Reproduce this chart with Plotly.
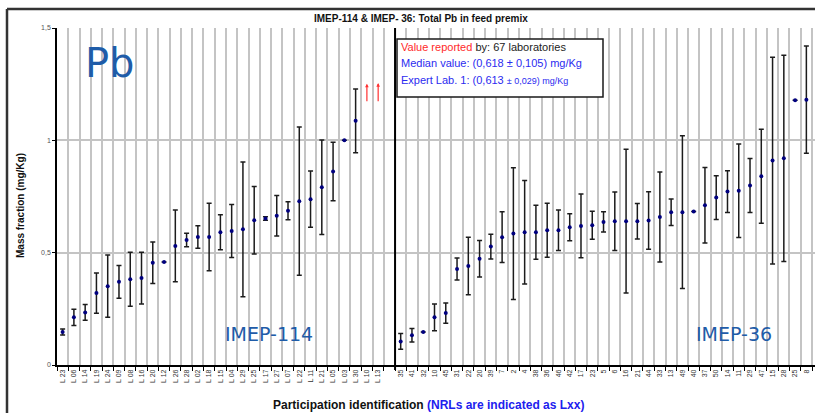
import plotly.graph_objects as go

# ---- IMEP-114 (NRLs) ----
LEFT_LABS = ["L 23", "L 06", "L 14", "L 19", "L 24", "L 09", "L 08", "L 16", "L 20", "L 12",
             "L 26", "L 28", "L 02", "L 18", "L 15", "L 04", "L 29", "L 25", "L 17", "L 27",
             "L 07", "L 22", "L 11", "L 21", "L 05", "L 03", "L 30", "L 10", "L 13"]
LEFT_VALS = [0.147, 0.212, 0.234, 0.320, 0.351, 0.370, 0.382, 0.387, 0.455, 0.459,
             0.530, 0.556, 0.570, 0.570, 0.591, 0.596, 0.604, 0.644, 0.652, 0.664,
             0.687, 0.729, 0.738, 0.791, 0.861, 1.000, 1.087, None, None]
LEFT_UNC = [0.013, 0.036, 0.035, 0.090, 0.139, 0.073, 0.120, 0.115, 0.092, None,
            0.160, 0.030, 0.050, 0.150, 0.078, 0.118, 0.300, 0.150, 0.008, 0.090,
            0.040, 0.330, 0.125, 0.210, 0.130, None, 0.142, None, None]

# ---- IMEP-36 ----
RIGHT_LABS = ["35", "41", "32", "10", "45", "31", "22", "20", "39", "7", "2", "4", "38",
              "36", "46", "42", "17", "23", "5", "6", "16", "21", "44", "33", "13", "49",
              "40", "37", "50", "14", "11", "29", "47", "15", "28", "25", "8"]
RIGHT_VALS = [0.105, 0.132, 0.147, 0.212, 0.231, 0.427, 0.441, 0.473, 0.527, 0.569,
              0.585, 0.591, 0.591, 0.600, 0.600, 0.613, 0.619, 0.622, 0.637, 0.640,
              0.640, 0.640, 0.643, 0.659, 0.680, 0.680, 0.683, 0.711, 0.745, 0.772,
              0.776, 0.799, 0.840, 0.910, 0.920, 1.178, 1.181]
RIGHT_UNC = [0.035, 0.030, None, 0.059, 0.045, 0.049, 0.128, 0.081, 0.055, 0.113,
             0.293, 0.230, 0.120, 0.120, 0.090, 0.060, 0.142, 0.062, 0.045, 0.130,
             0.320, 0.079, 0.128, 0.200, 0.059, 0.340, None, 0.168, 0.097, 0.093,
             0.208, 0.120, 0.209, 0.460, 0.459, None, 0.239]

# results above the axis limit, drawn as arrows
OFFSCALE_LABS = ["L 10", "L 13"]
OFFSCALE_FROM = [1.167, 1.167]
OFFSCALE_TO = [1.252, 1.255]

BLANK = " "
CATS = LEFT_LABS + [BLANK] + RIGHT_LABS

# plot-area geometry in pixels (for paper-referenced decorations)
W, H = 815, 413
L_PX, R_PX, T_PX, B_PX = 57, 815, 28, 365
SLOT = (812 - L_PX) / len(CATS)


def px(xp):
    return (xp - L_PX) / (R_PX - L_PX)


def py(yp):
    return (B_PX - yp) / (B_PX - T_PX)


BLUE_TXT = "#1f5ca8"
SANS = "Liberation Sans, Arial, sans-serif"
VERD = "DejaVu Sans, Verdana, sans-serif"

fig = go.Figure()

# keeps the empty separator slot on the category axis
fig.add_trace(go.Scatter(x=[BLANK], y=[-1], mode="markers", marker=dict(opacity=0),
                         hoverinfo="skip", showlegend=False))

fig.add_trace(go.Scatter(
    x=LEFT_LABS + RIGHT_LABS,
    y=LEFT_VALS + RIGHT_VALS,
    mode="markers",
    marker=dict(color="#00007f", size=4),
    error_y=dict(type="data", array=LEFT_UNC + RIGHT_UNC, visible=True,
                 color="#1c1c1c", thickness=1.5, width=2.5),
    showlegend=False,
))

annotations = []
for lab, y0, y1 in zip(OFFSCALE_LABS, OFFSCALE_FROM, OFFSCALE_TO):
    i = CATS.index(lab)
    annotations.append(dict(x=i, y=y1, ax=i, ay=y0, xref="x", yref="y", axref="x", ayref="y",
                            showarrow=True, arrowhead=2, arrowsize=0.6, arrowwidth=1.2,
                            arrowcolor="#ff3030", text=""))

sep = CATS.index(BLANK) + 0.5

shapes = [
    # split between the two rounds
    dict(type="line", xref="x", yref="paper", x0=sep, x1=sep, y0=-0.015, y1=1,
         line=dict(color="black", width=2)),
    # info box
    dict(type="rect", xref="paper", yref="paper", x0=px(397), x1=px(603), y0=py(97), y1=py(39),
         line=dict(color="#1a1a1a", width=1.5), fillcolor="white", layer="above"),
    # outer frame
    dict(type="line", xref="paper", yref="paper", x0=px(7), x1=1.0, y0=py(9), y1=py(9),
         line=dict(color="#333333", width=2.5)),
    dict(type="line", xref="paper", yref="paper", x0=px(7), x1=px(7), y0=py(9), y1=py(413),
         line=dict(color="#333333", width=2.5)),
]


def label(text, x, y, size, color, family=SANS, xanchor="center", **kw):
    return dict(text=text, xref="paper", yref="paper", x=px(x), y=py(y),
                xanchor=xanchor, yanchor="middle", showarrow=False,
                font=dict(family=family, size=size, color=color), **kw)


annotations += [
    label("<b>IMEP-114 & IMEP- 36: Total Pb in feed premix</b>", 421, 18, 10, "#111",
          family="Liberation Sans Narrow, Arial Narrow, sans-serif"),
    label("<span style='color:#ff2a2a'>Value reported</span> by: 67 laboratories",
          399, 47, 11, "#222", xanchor="left"),
    label("Median value: (0,618 ± 0,105) mg/Kg", 399, 63, 11, "#2b2bf0", xanchor="left"),
    label("Expert Lab. 1: (0,613 <span style='font-size:9px'>± 0,029) mg/Kg</span>",
          399, 80, 11, "#2b2bf0", xanchor="left"),
    label("Pb", 110, 63, 40, BLUE_TXT, family=VERD),
    label("IMEP-114", 269, 334, 19, BLUE_TXT, family=VERD),
    label("IMEP-36", 734, 334, 19, BLUE_TXT, family=VERD),
    label("<b>Mass fraction (mg/Kg)</b>", 20, 206, 10, "#111", textangle=-90),
    label("<b>Participation identification <span style='color:#2020ee'>(NRLs are indicated as Lxx)</span></b>",
          428, 405, 12, "#111"),
]

fig.update_layout(
    width=W, height=H,
    margin=dict(l=L_PX, r=W - R_PX, t=T_PX, b=H - B_PX, pad=0),
    paper_bgcolor="white", plot_bgcolor="white",
    separators=",.",
    showlegend=False,
    shapes=shapes,
    annotations=annotations,
    xaxis=dict(
        type="category", categoryorder="array", categoryarray=CATS,
        range=[-0.5, len(CATS) - 0.5 + (R_PX - 812) / SLOT],
        tickson="boundaries", ticks="outside", ticklen=4, tickwidth=1, tickcolor="black",
        showgrid=True, gridcolor="#c4c4c4", gridwidth=1.5,
        showline=True, linecolor="black", linewidth=1.5,
        tickangle=-90, tickfont=dict(family=SANS, size=7, color="#333"),
        zeroline=False, fixedrange=True,
    ),
    yaxis=dict(
        range=[0, 1.5], tick0=0, dtick=0.5,
        ticks="outside", ticklen=3, tickcolor="black",
        showgrid=True, gridcolor="#c4c4c4", gridwidth=1.5,
        showline=True, linecolor="black", linewidth=1.5,
        tickfont=dict(family=SANS, size=7, color="#555"),
        zeroline=False, fixedrange=True,
    ),
)

fig.write_html("out.html")
